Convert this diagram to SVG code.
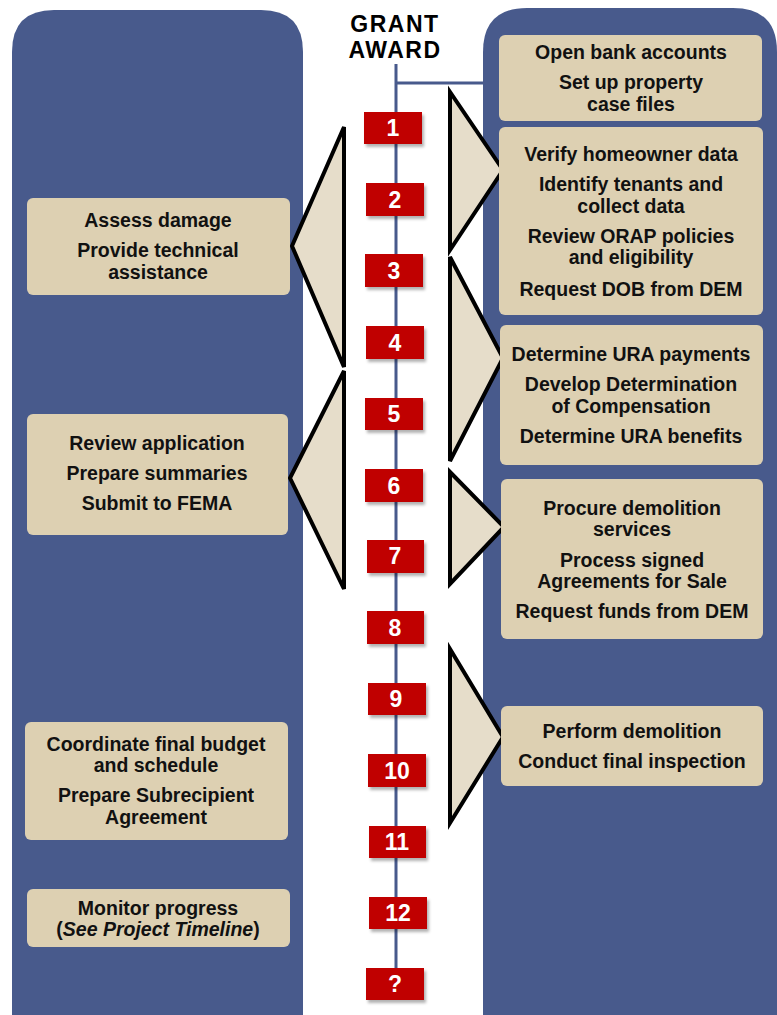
<svg xmlns="http://www.w3.org/2000/svg" width="777" height="1015" viewBox="0 0 777 1015">
  <style>
    .panel { fill: #485A8C; }
    .box { fill: #DDD0B2; }
    .tri { fill: #E6DDCA; stroke: #000; stroke-width: 4; stroke-linejoin: miter; }
    .step { fill: #C00000; filter: url(#shadow); }
    .num { font-family: "Liberation Sans", Arial, sans-serif; font-weight: bold; font-size: 23px; fill: #fff; text-anchor: middle; }
    .lbl { font-family: "Liberation Sans", Arial, sans-serif; font-weight: bold; font-size: 19.5px; fill: #111; text-anchor: middle; }
    .title { font-family: "Liberation Sans", Arial, sans-serif; font-weight: bold; font-size: 23px; letter-spacing: 1.5px; fill: #000; text-anchor: middle; }
    .line { stroke: #485A8C; stroke-width: 3; fill: none; }
  </style>
  <defs>
    <filter id="shadow" x="-20%" y="-20%" width="150%" height="160%">
      <feDropShadow dx="2" dy="3" stdDeviation="1.5" flood-color="#000" flood-opacity="0.3"/>
    </filter>
  </defs>

  <rect width="777" height="1015" fill="#fff"/>

  <!-- background panels -->
  <path class="panel" d="M12,1015 V52 Q12,10 54,10 H261 Q303,10 303,52 V1015 Z"/>
  <path class="panel" d="M483,1015 V52 Q483,8 527,8 H733 Q777,8 777,52 V1015 Z"/>

  <!-- title -->
  <g id="grant-award">
    <text class="title" x="395" y="32">GRANT</text>
    <text class="title" x="395" y="58">AWARD</text>
  </g>

  <!-- timeline connectors -->
  <g id="connectors">
    <line class="line" x1="396" y1="64" x2="396" y2="980"/>
    <line class="line" x1="396" y1="83" x2="484" y2="83"/>
  </g>

  <!-- bracket arrows -->
  <g id="brackets">
    <polygon class="tri" points="344,127 344,367 292,246"/>
    <polygon class="tri" points="344,371 344,589 290,478"/>
    <polygon class="tri" points="450,92 450,250 503,170"/>
    <polygon class="tri" points="450,257 450,461 503,358"/>
    <polygon class="tri" points="450,472 450,584 504,527"/>
    <polygon class="tri" points="450,649 450,823 503,737"/>
  </g>

  <!-- numbered steps -->
  <g id="step-1"><rect class="step" x="364" y="112" width="58" height="32"/><text class="num" x="393" y="136">1</text></g>
  <g id="step-2"><rect class="step" x="366" y="183" width="58" height="33"/><text class="num" x="395" y="208">2</text></g>
  <g id="step-3"><rect class="step" x="365" y="254" width="58" height="33"/><text class="num" x="394" y="279">3</text></g>
  <g id="step-4"><rect class="step" x="366" y="326" width="58" height="33"/><text class="num" x="395" y="351">4</text></g>
  <g id="step-5"><rect class="step" x="365" y="398" width="58" height="32"/><text class="num" x="394" y="422">5</text></g>
  <g id="step-6"><rect class="step" x="365" y="469" width="58" height="33"/><text class="num" x="394" y="494">6</text></g>
  <g id="step-7"><rect class="step" x="367" y="540" width="57" height="33"/><text class="num" x="395" y="564">7</text></g>
  <g id="step-8"><rect class="step" x="367" y="611" width="57" height="33"/><text class="num" x="395" y="636">8</text></g>
  <g id="step-9"><rect class="step" x="368" y="683" width="58" height="32"/><text class="num" x="396" y="707">9</text></g>
  <g id="step-10"><rect class="step" x="368" y="754" width="58" height="33"/><text class="num" x="397" y="779">10</text></g>
  <g id="step-11"><rect class="step" x="369" y="826" width="57" height="32"/><text class="num" x="397" y="850">11</text></g>
  <g id="step-12"><rect class="step" x="369" y="897" width="58" height="32"/><text class="num" x="398" y="921">12</text></g>
  <g id="step-tbd"><rect class="step" x="366" y="968" width="58" height="32"/><text class="num" x="395" y="992">?</text></g>

  <!-- left column tasks -->
  <g id="assess">
    <rect class="box" x="27" y="198" width="263" height="97" rx="6"/>
    <text class="lbl" x="158" y="227">Assess damage</text>
    <text class="lbl" x="158" y="257">Provide technical</text>
    <text class="lbl" x="158" y="279">assistance</text>
  </g>
  <g id="review">
    <rect class="box" x="27" y="414" width="261" height="121" rx="6"/>
    <text class="lbl" x="157" y="450">Review application</text>
    <text class="lbl" x="157" y="480">Prepare summaries</text>
    <text class="lbl" x="157" y="510">Submit to FEMA</text>
  </g>
  <g id="budget">
    <rect class="box" x="25" y="722" width="263" height="118" rx="6"/>
    <text class="lbl" x="156" y="751">Coordinate final budget</text>
    <text class="lbl" x="156" y="772">and schedule</text>
    <text class="lbl" x="156" y="802">Prepare Subrecipient</text>
    <text class="lbl" x="156" y="824">Agreement</text>
  </g>
  <g id="monitor">
    <rect class="box" x="27" y="889" width="263" height="58" rx="6"/>
    <text class="lbl" x="158" y="915">Monitor progress</text>
    <text class="lbl" x="158" y="936">(<tspan font-style="italic">See Project Timeline</tspan>)</text>
  </g>

  <!-- right column tasks -->
  <g id="accounts">
    <rect class="box" x="499" y="35" width="263" height="86" rx="6"/>
    <text class="lbl" x="631" y="59">Open bank accounts</text>
    <text class="lbl" x="631" y="89">Set up property</text>
    <text class="lbl" x="631" y="111">case files</text>
  </g>
  <g id="verify">
    <rect class="box" x="499" y="127" width="264" height="188" rx="6"/>
    <text class="lbl" x="631" y="161">Verify homeowner data</text>
    <text class="lbl" x="631" y="191">Identify tenants and</text>
    <text class="lbl" x="631" y="213">collect data</text>
    <text class="lbl" x="631" y="243">Review ORAP policies</text>
    <text class="lbl" x="631" y="264">and eligibility</text>
    <text class="lbl" x="631" y="296">Request DOB from DEM</text>
  </g>
  <g id="ura">
    <rect class="box" x="500" y="325" width="263" height="140" rx="6"/>
    <text class="lbl" x="631" y="361">Determine URA payments</text>
    <text class="lbl" x="631" y="391">Develop Determination</text>
    <text class="lbl" x="631" y="413">of Compensation</text>
    <text class="lbl" x="631" y="443">Determine URA benefits</text>
  </g>
  <g id="procure">
    <rect class="box" x="501" y="479" width="262" height="160" rx="6"/>
    <text class="lbl" x="632" y="515">Procure demolition</text>
    <text class="lbl" x="632" y="536">services</text>
    <text class="lbl" x="632" y="567">Process signed</text>
    <text class="lbl" x="632" y="588">Agreements for Sale</text>
    <text class="lbl" x="632" y="618">Request funds from DEM</text>
  </g>
  <g id="demolition">
    <rect class="box" x="501" y="706" width="262" height="80" rx="6"/>
    <text class="lbl" x="632" y="738">Perform demolition</text>
    <text class="lbl" x="632" y="768">Conduct final inspection</text>
  </g>
</svg>
